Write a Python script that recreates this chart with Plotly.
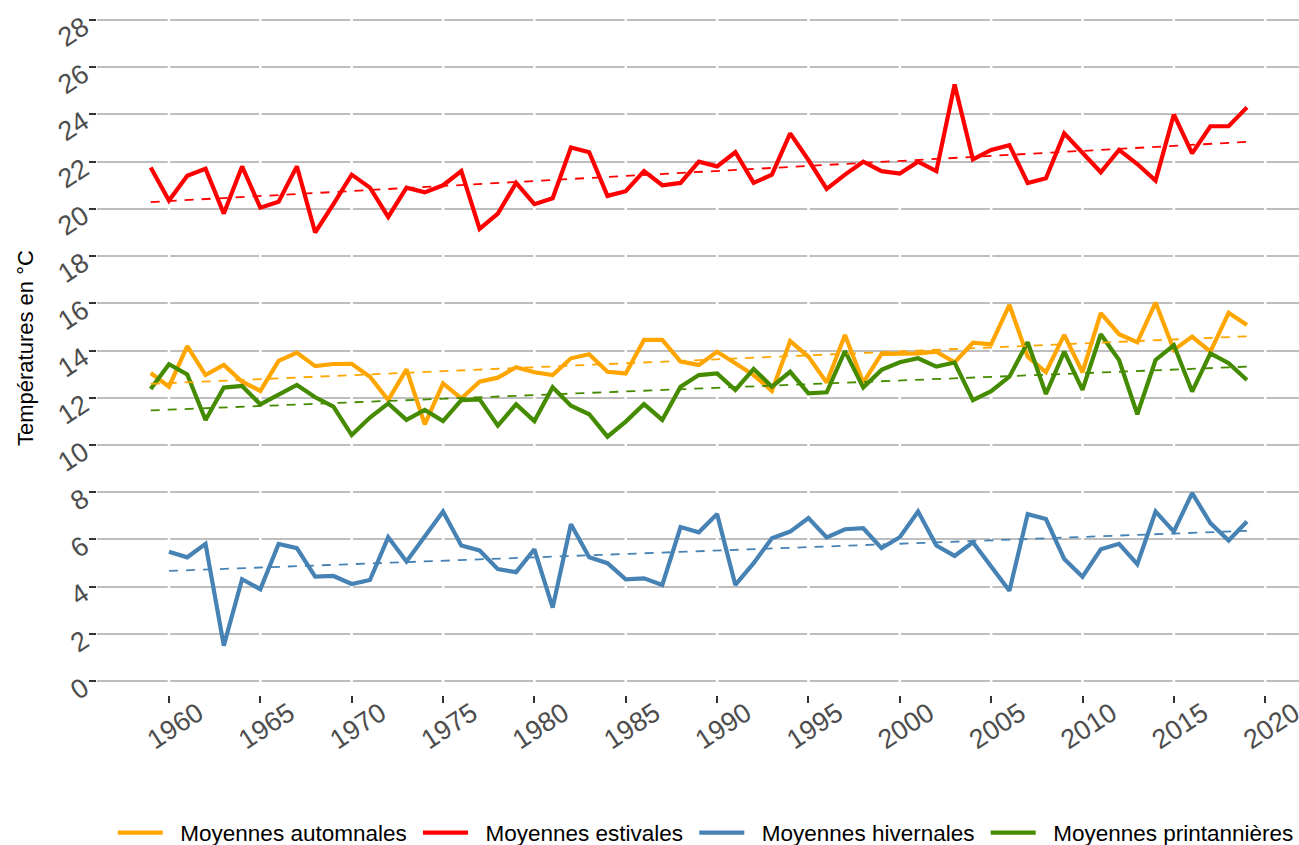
import numpy as np
import plotly.graph_objects as go

# ---------------- data ----------------
years = list(range(1959, 2020))

automnales = [13.05, 12.47, 14.19, 12.96, 13.39, 12.68, 12.29, 13.56, 13.91, 13.34,
              13.43, 13.44, 12.89, 11.90, 13.20, 10.87, 12.61, 11.97, 12.68, 12.85,
              13.29, 13.08, 12.96, 13.67, 13.84, 13.10, 13.03, 14.45, 14.45, 13.53,
              13.39, 13.95, 13.46, 12.96, 12.29, 14.40, 13.74, 12.64, 14.66, 12.64,
              13.86, 13.88, 13.88, 13.95, 13.50, 14.33, 14.26, 15.93, 13.74, 13.08,
              14.66, 13.08, 15.58, 14.69, 14.35, 16.03, 14.02, 14.59, 13.95, 15.60,
              15.08]

estivales = [21.75, 20.35, 21.40, 21.70, 19.80, 21.80, 20.05, 20.30, 21.80, 19.00,
             20.20, 21.45, 20.90, 19.66, 20.90, 20.70, 21.00, 21.60, 19.15, 19.80,
             21.10, 20.20, 20.45, 22.60, 22.40, 20.55, 20.75, 21.60, 21.00, 21.10,
             22.00, 21.80, 22.40, 21.10, 21.45, 23.20, 22.07, 20.85, 21.45, 22.00,
             21.60, 21.50, 22.00, 21.60, 25.27, 22.10, 22.50, 22.70, 21.10, 21.30,
             23.20, 22.40, 21.55, 22.50, 21.90, 21.20, 24.00, 22.35, 23.50, 23.50,
             24.30]

# winter series starts in 1960 (no value for 1959)
hivernales = [None, 5.48, 5.24, 5.81, 1.50, 4.31, 3.89, 5.81, 5.63, 4.42,
              4.45, 4.11, 4.28, 6.09, 5.06, 6.12, 7.18, 5.74, 5.53, 4.74,
              4.61, 5.58, 3.11, 6.64, 5.24, 4.99, 4.31, 4.35, 4.07, 6.52,
              6.30, 7.07, 4.07, 4.99, 6.05, 6.33, 6.90, 6.08, 6.43, 6.47,
              5.63, 6.09, 7.18, 5.74, 5.30, 5.88, 4.88, 3.82, 7.07, 6.86,
              5.17, 4.42, 5.58, 5.81, 4.95, 7.18, 6.33, 7.96, 6.69, 5.95,
              6.76]

printannieres = [12.37, 13.42, 12.99, 11.06, 12.43, 12.50, 11.72, 12.12, 12.54, 12.02,
                 11.62, 10.42, 11.16, 11.76, 11.06, 11.48, 11.01, 11.90, 11.93, 10.82,
                 11.72, 11.01, 12.44, 11.66, 11.30, 10.35, 10.99, 11.73, 11.06, 12.47,
                 12.96, 13.03, 12.33, 13.22, 12.47, 13.10, 12.19, 12.23, 13.98, 12.43,
                 13.18, 13.50, 13.67, 13.32, 13.49, 11.90, 12.28, 12.89, 14.35, 12.16,
                 13.95, 12.33, 14.69, 13.60, 11.30, 13.60, 14.23, 12.26, 13.88, 13.46,
                 12.75]

series_names = ["Moyennes automnales", "Moyennes estivales",
                "Moyennes hivernales", "Moyennes printannières"]
series_values = [automnales, estivales, hivernales, printannieres]
series_colors = ["#FFA500", "#FF0000", "#4682B4", "#458B00"]

x_ticks = list(range(1960, 2021, 5))
y_ticks = list(range(0, 29, 2))

X_RANGE = [1956.06, 2021.85]
Y_RANGE = [-0.593, 28.51]

TICK_COLOR = "#4D4D4D"
FONT = "Liberation Sans, Arial, Helvetica, sans-serif"
NBSP = "\u00a0"

fig = go.Figure()

# white vertical separators at the major x ticks (cut the horizontal gridlines)
vx, vy = [], []
for t in x_ticks:
    vx += [t, t, None]
    vy += [Y_RANGE[0], Y_RANGE[1], None]
fig.add_trace(go.Scatter(x=vx, y=vy, mode="lines",
                         line=dict(color="white", width=2.5),
                         hoverinfo="skip", showlegend=False))

# data lines
for name, vals, col in zip(series_names, series_values, series_colors):
    fig.add_trace(go.Scatter(x=years, y=vals, mode="lines",
                             name=NBSP * 2 + name + NBSP,
                             line=dict(color=col, width=4.2),
                             connectgaps=False))

# linear trends (lm) as dashed lines
for name, vals, col in zip(series_names, series_values, series_colors):
    xs = np.array([y for y, v in zip(years, vals) if v is not None], dtype=float)
    ys = np.array([v for v in vals if v is not None], dtype=float)
    a, b = np.polyfit(xs, ys, 1)
    fig.add_trace(go.Scatter(x=xs, y=a * xs + b, mode="lines",
                             line=dict(color=col, width=1.8, dash="9px,8px"),
                             hoverinfo="skip", showlegend=False))

fig.update_layout(
    width=1299, height=845,
    margin=dict(l=97, r=0, t=8, b=150, autoexpand=False),
    paper_bgcolor="white", plot_bgcolor="white",
    font=dict(family=FONT, size=27, color=TICK_COLOR),
    showlegend=True,
    legend=dict(orientation="h", x=0.509, xanchor="center",
                y=-0.2009, yanchor="middle", itemwidth=45,
                font=dict(family=FONT, size=22.5, color="black"),
                bgcolor="rgba(0,0,0,0)"),
    xaxis=dict(range=X_RANGE, tickmode="array", tickvals=x_ticks,
               ticktext=[str(t) for t in x_ticks],
               ticks="outside", ticklen=7, tickwidth=2, tickcolor="#333333",
               tickangle=-33, ticklabelshift=29, ticklabelstandoff=-16,
               ticklabeloverflow="allow", automargin=False,
               tickfont=dict(family=FONT, size=27, color=TICK_COLOR),
               showgrid=False, zeroline=False, showline=False),
    yaxis=dict(range=Y_RANGE, tickmode="array", tickvals=y_ticks,
               ticktext=[str(t) for t in y_ticks],
               ticks="outside", ticklen=7, tickwidth=2, tickcolor="#333333",
               tickangle=-33, ticklabelshift=4, automargin=False,
               ticklabeloverflow="allow",
               tickfont=dict(family=FONT, size=27, color=TICK_COLOR),
               showgrid=True, gridcolor="#BEBEBE", gridwidth=2,
               zeroline=False, showline=False),
    annotations=[dict(text="Températures en °C", textangle=-90,
                      xref="paper", yref="paper", x=-0.0599, y=0.505,
                      xanchor="center", yanchor="middle", showarrow=False,
                      font=dict(family=FONT, size=22, color="black"))],
)

# remove the default 8px page margin so the 1299x845 figure fills the window
fig.write_html("out.html",
               config={"displayModeBar": False},
               post_script="document.body.style.margin='0px';"
                           "document.body.style.overflow='hidden';")
